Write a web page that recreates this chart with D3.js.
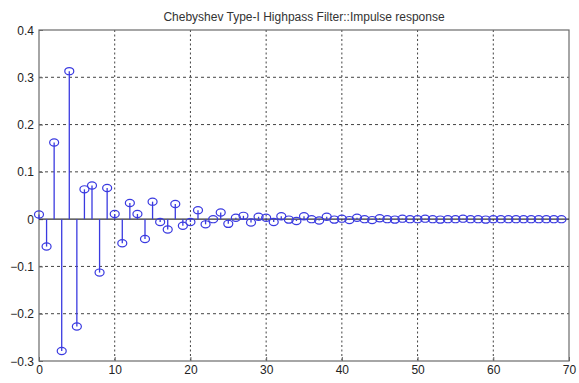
<!DOCTYPE html>
<html>
<head>
<meta charset="utf-8">
<script src="https://cdn.jsdelivr.net/npm/d3@7"></script>
<style>
  body { margin: 0; background: #fff; }
  svg { display: block; font-family: "Liberation Sans", Arial, sans-serif; }
</style>
</head>
<body>
<svg width="579" height="383"></svg>
<script>
const titleText = 'Chebyshev Type-I Highpass Filter::Impulse response';

// impulse response samples h[n], n = 0..69
const samples = d3.range(0, 70);
const response = [
  0.010, -0.058, 0.162, -0.279, 0.313, -0.227, 0.063, 0.071, -0.113, 0.066,
  0.011, -0.051, 0.034, 0.011, -0.042, 0.037, -0.006, -0.022, 0.032, -0.014,
  -0.006, 0.019, -0.011, 0.000, 0.014, -0.010, 0.003, 0.007, -0.007, 0.005,
  0.003, -0.006, 0.006, -0.001, -0.004, 0.006, 0.000, -0.003, 0.005, -0.001,
  0.001, -0.002, 0.003, 0.000, -0.002, 0.002, 0.000, -0.001, 0.001, 0.000,
  0.000, 0.001, 0.000, -0.001, 0.000, 0.000, 0.001, 0.000, 0.000, -0.001,
  0.000, 0.000, 0.000, 0.000, 0.000, 0.000, 0.000, 0.000, 0.000, 0.000
];
const xTicks = [0, 10, 20, 30, 40, 50, 60, 70];
const yTicks = [-0.3, -0.2, -0.1, 0, 0.1, 0.2, 0.3, 0.4];

const svg = d3.select('svg');
const margin = { top: 30, right: 10, bottom: 22, left: 39 };
const width = +svg.attr('width');
const height = +svg.attr('height');
const innerWidth = width - margin.left - margin.right;
const innerHeight = height - margin.top - margin.bottom;

const xScale = d3.scaleLinear().domain([0, 70]).range([0, innerWidth]);
const yScale = d3.scaleLinear().domain([-0.3, 0.4]).range([innerHeight, 0]);

const g = svg.append('g')
  .attr('transform', `translate(${margin.left},${margin.top})`);

// grid
const gridColor = '#444';
g.append('g').selectAll('line')
  .data(xTicks.slice(1, -1))
  .enter().append('line')
    .attr('x1', d => xScale(d)).attr('x2', d => xScale(d))
    .attr('y1', 0).attr('y2', innerHeight)
    .attr('stroke', gridColor)
    .attr('stroke-dasharray', '2,2.5');

g.append('g').selectAll('line')
  .data(yTicks.filter(d => d !== 0 && d !== -0.3 && d !== 0.4))
  .enter().append('line')
    .attr('x1', 0).attr('x2', innerWidth)
    .attr('y1', d => yScale(d)).attr('y2', d => yScale(d))
    .attr('stroke', gridColor)
    .attr('stroke-dasharray', '3,3');

// axes (ticks point inward, labels placed explicitly)
const xAxis = d3.axisBottom(xScale).tickValues(xTicks).tickSizeInner(-4).tickSizeOuter(0);
const yAxis = d3.axisLeft(yScale).tickValues(yTicks).tickSizeInner(-4).tickSizeOuter(0);

const xAxisG = g.append('g').attr('transform', `translate(0,${innerHeight})`).call(xAxis);
const yAxisG = g.append('g').call(yAxis);
[xAxisG, yAxisG].forEach(a => {
  a.select('.domain').remove();
  a.attr('font-size', 12).attr('font-family', null);
  a.selectAll('.tick line').attr('stroke', '#666');
});
xAxisG.selectAll('.tick text')
  .attr('dy', null).attr('y', 13)
  .attr('text-anchor', 'middle').attr('fill', '#222');
yAxisG.selectAll('.tick text')
  .attr('dy', null).attr('y', 4).attr('x', -5)
  .attr('text-anchor', 'end').attr('fill', '#222')
  .text(d => d === 0 ? '0' : d3.format('.1f')(d));

// frame
g.append('rect')
  .attr('width', innerWidth).attr('height', innerHeight)
  .attr('fill', 'none').attr('stroke', '#6b6b6b').attr('stroke-width', 1.2);

// baseline
g.append('line')
  .attr('x1', 0).attr('x2', innerWidth)
  .attr('y1', yScale(0)).attr('y2', yScale(0))
  .attr('stroke', '#333').attr('stroke-width', 1.2);

const data = samples.map((n, i) => ({ n, v: response[i] }));
const blue = '#3a3ae0';

g.selectAll('.stem').data(data)
  .enter().append('line')
    .attr('class', 'stem')
    .attr('x1', d => xScale(d.n)).attr('x2', d => xScale(d.n))
    .attr('y1', yScale(0)).attr('y2', d => yScale(d.v))
    .attr('stroke', blue).attr('stroke-width', 1.3);

g.selectAll('.marker').data(data)
  .enter().append('ellipse')
    .attr('class', 'marker')
    .attr('cx', d => xScale(d.n))
    .attr('cy', d => yScale(d.v))
    .attr('rx', 4.5).attr('ry', 3.6)
    .attr('fill', 'none')
    .attr('stroke', blue).attr('stroke-width', 1.2);

svg.append('text')
  .attr('x', margin.left + innerWidth / 2)
  .attr('y', 21)
  .attr('text-anchor', 'middle')
  .attr('font-size', 12)
  .attr('fill', '#333')
  .text(titleText);
</script>
</body>
</html>
